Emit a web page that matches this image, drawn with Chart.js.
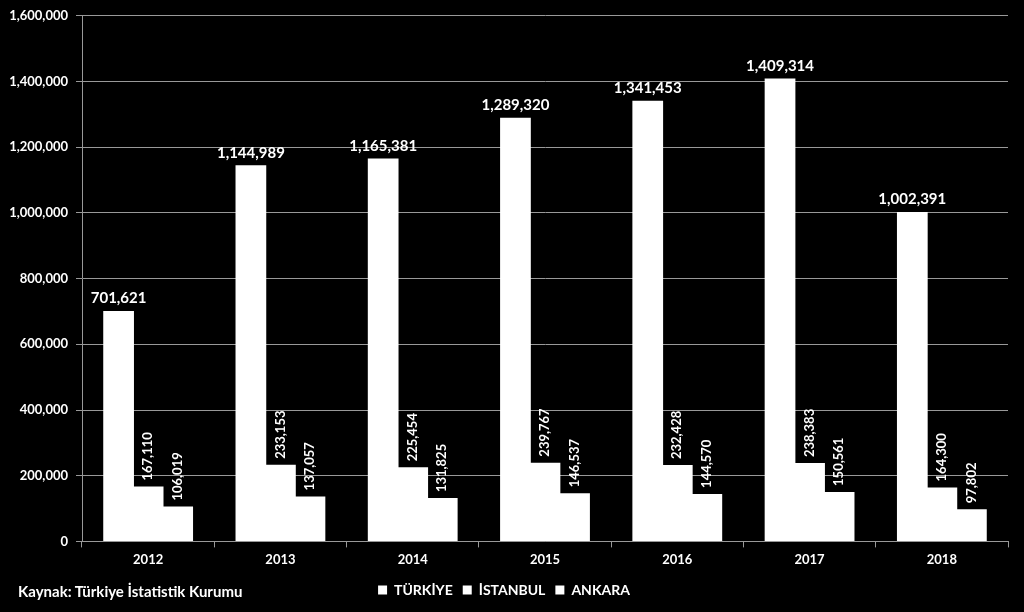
<!DOCTYPE html>
<html>
<head>
<meta charset="utf-8">
<script src="https://cdn.jsdelivr.net/npm/chart.js@4/dist/chart.umd.min.js"></script>
<style>
  html, body { margin: 0; padding: 0; background: #000; }
  #wrap { position: relative; width: 1024px; height: 612px; }
  #source { position: absolute; left: 18px; top: 582px; color: #fff; font: bold 15px Lato, "Noto Sans", sans-serif; }
</style>
</head>
<body>
<div id="wrap">
  <canvas id="myChart" width="1024" height="612"></canvas>
  <div id="source">Kaynak: Türkiye İstatistik Kurumu</div>
</div>
<script>
const years = ["2012", "2013", "2014", "2015", "2016", "2017", "2018"];
const turkiye = [701621, 1144989, 1165381, 1289320, 1341453, 1409314, 1002391];
const istanbul = [167110, 233153, 225454, 239767, 232428, 238383, 164300];
const ankara = [106019, 137057, 131825, 146537, 144570, 150561, 97802];
const seriesNames = ["TÜRKİYE", "İSTANBUL", "ANKARA"];

const FONT = "Lato, 'Noto Sans', sans-serif";
const fmt = v => v.toLocaleString("en-US");

// value labels over the bars (first series flat, others turned)
const barLabels = {
  id: "barLabels",
  afterDatasetsDraw(chart) {
    const ctx = chart.ctx;
    chart.data.datasets.forEach((ds, i) => {
      const meta = chart.getDatasetMeta(i);
      meta.data.forEach((bar, j) => {
        const txt = fmt(ds.data[j]);
        ctx.save();
        ctx.fillStyle = "#fff";
        if (i == 0) {
          ctx.font = "bold 15px " + FONT;
          ctx.textAlign = "center";
          ctx.textBaseline = "bottom";
          ctx.fillText(txt, bar.x, bar.y - 5);
        } else {
          ctx.font = "bold 13px " + FONT;
          ctx.translate(bar.x, bar.y - 6);
          ctx.rotate(-Math.PI / 2);
          ctx.textAlign = "left";
          ctx.textBaseline = "middle";
          ctx.fillText(txt, 0, 0);
        }
        ctx.restore();
      });
    });
  }
};

new Chart(document.getElementById("myChart"), {
  type: "bar",
  data: {
    labels: years,
    datasets: [
      { label: seriesNames[0], data: turkiye, backgroundColor: "#fff" },
      { label: seriesNames[1], data: istanbul, backgroundColor: "#fff" },
      { label: seriesNames[2], data: ankara, backgroundColor: "#fff" }
    ]
  },
  options: {
    responsive: false,
    animation: false,
    layout: { padding: { top: 10, right: 16, left: 0, bottom: 5 } },
    // slight overlap so neighbouring bars show no seam
    datasets: { bar: { barPercentage: 1.04, categoryPercentage: 0.67, borderWidth: 0 } },
    plugins: {
      tooltip: { enabled: false },
      legend: {
        position: "bottom",
        labels: {
          color: "#fff",
          font: { family: FONT, size: 14, weight: "bold" },
          boxWidth: 9,
          boxHeight: 9,
          padding: 10
        }
      }
    },
    scales: {
      x: {
        grid: { display: true, drawOnChartArea: false, color: "#999", tickLength: 6, offset: true },
        border: { color: "#999" },
        ticks: { color: "#fff", font: { family: FONT, size: 13, weight: "bold" }, padding: 5 }
      },
      y: {
        min: 0,
        max: 1600000,
        afterFit: s => { s.width = 82; },
        grid: { color: "#999", tickLength: 6 },
        border: { color: "#999" },
        ticks: {
          stepSize: 200000,
          color: "#fff",
          font: { family: FONT, size: 13, weight: "bold" },
          padding: 8,
          callback: v => fmt(v)
        }
      }
    }
  },
  plugins: [barLabels]
});
</script>
</body>
</html>
